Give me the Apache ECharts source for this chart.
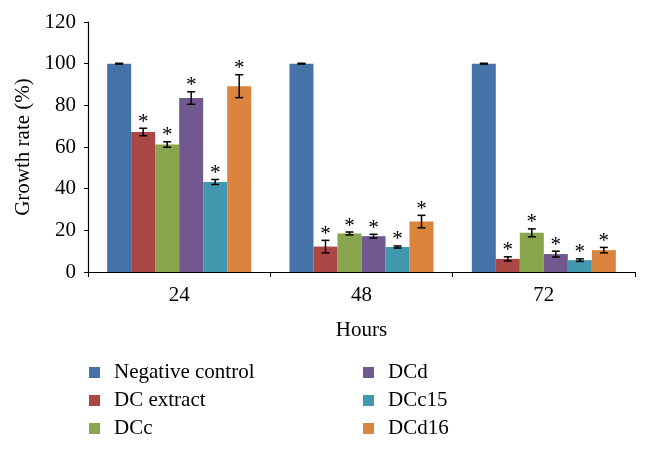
<!DOCTYPE html>
<html>
<head>
<meta charset="utf-8">
<script src="https://cdn.jsdelivr.net/npm/echarts@6/dist/echarts.min.js"></script>
<style>html,body{margin:0;padding:0;background:#fff}#c{width:650px;height:449px}</style>
</head>
<body>
<div id="c"></div>
<script>
var categories = ['24', '48', '72'];
var seriesNames = ['Negative control', 'DC extract', 'DCc', 'DCd', 'DCc15', 'DCd16'];
var negativeControl = [100, 100, 100];
var dcExtract = [67.2, 12.2, 6.3];
var dcc = [61.2, 18.5, 18.8];
var dcd = [83.5, 17.2, 8.6];
var dcc15 = [43.2, 12.0, 5.7];
var dcd16 = [89.2, 24.2, 10.5];
var errNegativeControl = [0.2, 0.2, 0.2];
var errDcExtract = [1.8, 3.0, 1.0];
var errDcc = [1.3, 0.7, 1.9];
var errDcd = [3.0, 0.9, 1.4];
var errDcc15 = [1.2, 0.5, 0.6];
var errDcd16 = [5.5, 3.0, 1.3];
var significant = [[false, true, true, true, true, true], [false, true, true, true, true, true], [false, true, true, true, true, true]];

var values = [negativeControl, dcExtract, dcc, dcd, dcc15, dcd16];
var errors = [errNegativeControl, errDcExtract, errDcc, errDcd, errDcc15, errDcd16];
var colors = ['#4572A7', '#AA4643', '#89A54E', '#71588F', '#4198AF', '#DB843D'];
var font = 'Liberation Serif';

var series = values.map(function (v, i) {
  return {
    name: seriesNames[i], type: 'bar', data: v, barGap: '0%', barCategoryGap: '21%',
    itemStyle: { color: colors[i] }
  };
});

var errData = [];
for (var c = 0; c < categories.length; c++) {
  for (var s = 0; s < values.length; s++) {
    errData.push([c, s, values[s][c], errors[s][c], significant[c][s] ? 1 : 0]);
  }
}

series.push({
  type: 'custom',
  data: errData,
  z: 10,
  encode: { x: 0, y: 2 },
  renderItem: function (params, api) {
    var c = api.value(0), s = api.value(1), v = api.value(2), e = api.value(3), sig = api.value(4);
    var band = api.size([1, 0])[0];
    var bw = band * 0.79 / 6;
    var cx = api.coord([c, v])[0] - band * 0.395 + bw * (s + 0.5);
    var yTop = api.coord([c, v + e])[1];
    var yBot = api.coord([c, v - e])[1];
    var cap = 4;
    var st = { stroke: '#000', lineWidth: 1.5 };
    var children = [
      { type: 'line', shape: { x1: cx, y1: yTop, x2: cx, y2: yBot }, style: st },
      { type: 'line', shape: { x1: cx - cap, y1: yTop, x2: cx + cap, y2: yTop }, style: st },
      { type: 'line', shape: { x1: cx - cap, y1: yBot, x2: cx + cap, y2: yBot }, style: st }
    ];
    if (sig) {
      children.push({ type: 'text', style: { text: '*', x: cx, y: yTop - 6, align: 'center', verticalAlign: 'middle', fontFamily: font, fontSize: 21, fill: '#000' } });
    }
    return { type: 'group', children: children };
  }
});

var legendText = { fontFamily: font, fontSize: 21, color: '#000', lineHeight: 21, padding: [0, 0, 0, 9] };
var chart = echarts.init(document.getElementById('c'));
chart.setOption({
  animation: false,
  textStyle: { fontFamily: font },
  grid: { left: 88, right: 15, top: 22, bottom: 177 },
  legend: [
    { orient: 'vertical', left: 89, top: 362, padding: 0, height: 120, itemWidth: 11, itemHeight: 11, itemGap: 7, icon: 'rect',
      data: seriesNames.slice(0, 3), textStyle: legendText },
    { orient: 'vertical', left: 363, top: 362, padding: 0, height: 120, itemWidth: 11, itemHeight: 11, itemGap: 7, icon: 'rect',
      data: seriesNames.slice(3), textStyle: legendText }
  ],
  xAxis: {
    type: 'category', data: categories,
    name: 'Hours', nameLocation: 'middle', nameGap: 48,
    nameTextStyle: { fontFamily: font, fontSize: 21, color: '#000' },
    axisLine: { lineStyle: { color: '#000', width: 1.2 } },
    axisTick: { show: true, length: 5, lineStyle: { color: '#000' } },
    axisLabel: { fontFamily: font, fontSize: 21, color: '#000', margin: 13 }
  },
  yAxis: {
    type: 'value', min: 0, max: 120, interval: 20,
    name: 'Growth rate (%)', nameLocation: 'middle', nameGap: 52,
    nameTextStyle: { fontFamily: font, fontSize: 21, color: '#000' },
    axisLine: { show: true, lineStyle: { color: '#000', width: 1.2 } },
    axisTick: { show: true, length: 4, lineStyle: { color: '#000' } },
    splitLine: { show: false },
    axisLabel: { fontFamily: font, fontSize: 21, color: '#000', margin: 12 }
  },
  series: series
});
</script>
</body>
</html>
